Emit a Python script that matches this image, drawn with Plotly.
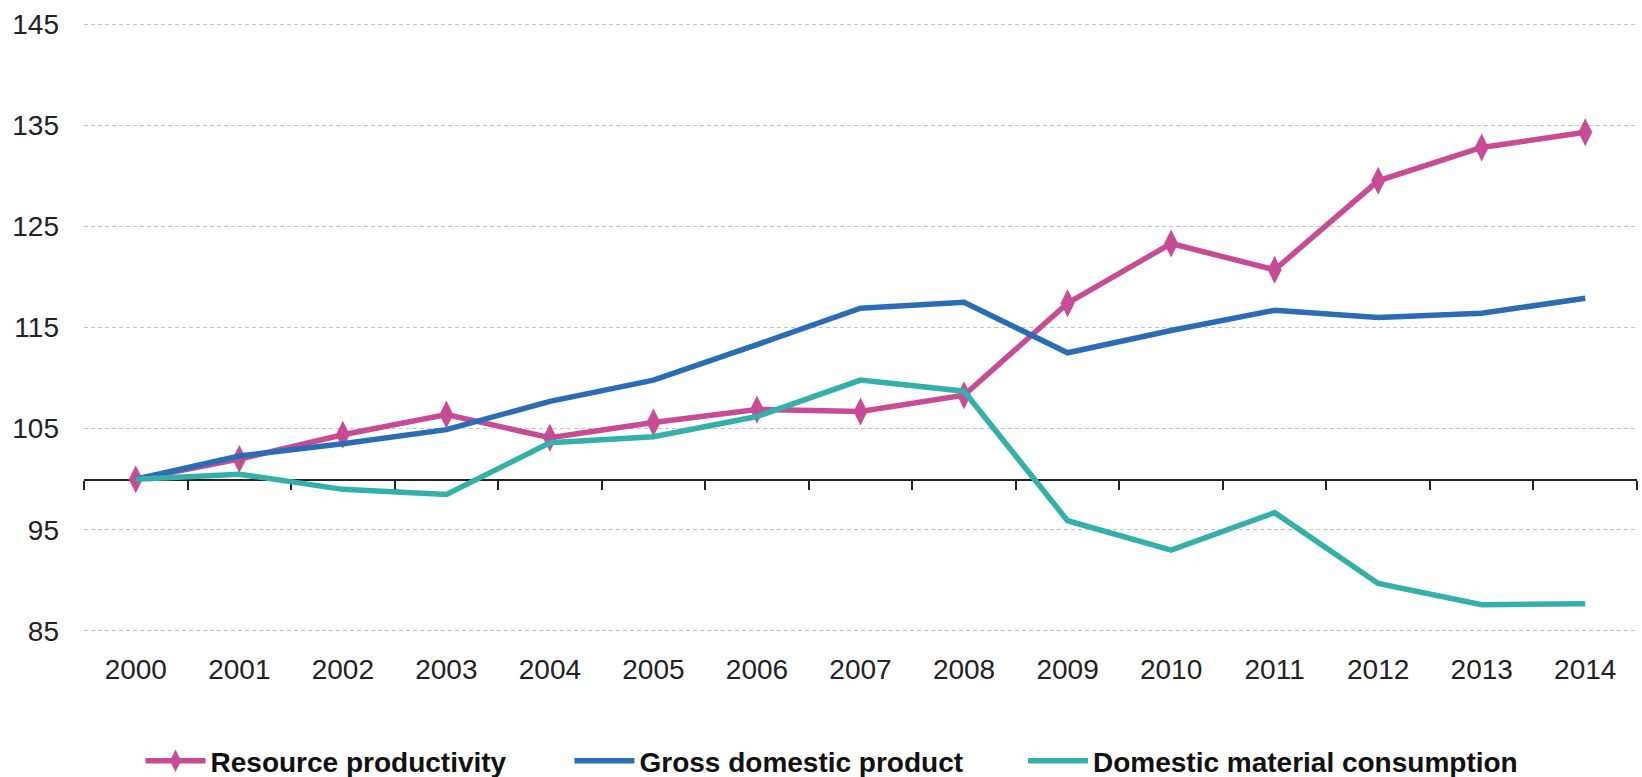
import plotly.graph_objects as go

years = [str(y) for y in range(2000, 2015)]
resource_productivity = [100, 102.0, 104.4, 106.4, 104.1, 105.6, 106.9, 106.7, 108.3, 117.4, 123.3, 120.7, 129.5, 132.8, 134.3]
gdp = [100, 102.3, 103.5, 104.9, 107.7, 109.8, 113.3, 116.9, 117.5, 112.5, 114.7, 116.7, 116.0, 116.4, 117.9]
dmc = [100, 100.5, 99.0, 98.5, 103.6, 104.2, 106.2, 109.8, 108.7, 95.9, 93.0, 96.7, 89.7, 87.6, 87.7]
y_ticks = [85, 95, 105, 115, 125, 135, 145]

PINK = "#C84B96"
BLUE = "#2A6DB5"
TEAL = "#33B0AA"
FONT = "Liberation Sans, Arial, sans-serif"

fig = go.Figure()
fig.add_trace(go.Scatter(x=years, y=resource_productivity, name="Resource productivity",
                         mode="lines+markers", line=dict(color=PINK, width=5.5),
                         marker=dict(symbol="diamond-tall", size=20, color=PINK),
                         legend="legend"))
fig.add_trace(go.Scatter(x=years, y=gdp, name="Gross domestic product",
                         mode="lines", line=dict(color=BLUE, width=5.5), legend="legend2"))
fig.add_trace(go.Scatter(x=years, y=dmc, name="Domestic material consumption",
                         mode="lines", line=dict(color=TEAL, width=5.5), legend="legend3"))
# carrier for the baseline axis at 100
fig.add_trace(go.Scatter(x=years, y=[None] * len(years), xaxis="x2", showlegend=False,
                         hoverinfo="skip", mode="lines"))

legend_common = dict(orientation="h", yanchor="middle", y=-0.212, xanchor="left",
                     font=dict(family=FONT, size=28, color="#111", weight="bold"),
                     itemwidth=60, bgcolor="rgba(0,0,0,0)", tracegroupgap=0)

fig.update_layout(
    width=1642, height=777,
    margin=dict(l=84, r=5, t=23, b=145, autoexpand=False),
    plot_bgcolor="white", paper_bgcolor="white",
    font=dict(family=FONT, size=28, color="#222"),
    xaxis=dict(type="category", categoryorder="array", categoryarray=years,
               range=[-0.5, 14.5], showgrid=False, showline=False, zeroline=False,
               ticks="", ticklabelstandoff=18, automargin=False,
               tickfont=dict(family=FONT, size=28, color="#222")),
    xaxis2=dict(type="category", categoryorder="array", categoryarray=years,
                range=[-0.5, 14.5], overlaying="x", anchor="free", position=0.25,
                side="bottom", showline=True, linecolor="#222", linewidth=2,
                ticks="outside", ticklen=9, tickwidth=2, tickcolor="#222",
                tickson="boundaries", showticklabels=False, showgrid=False,
                layer="below traces"),
    yaxis=dict(range=[84.9, 145.1], tickvals=y_ticks, showgrid=True, gridcolor="#C4C4C4",
               gridwidth=1, griddash="4px,3px", zeroline=False, showline=False,
               ticks="", ticklabelstandoff=24, automargin=False,
               tickfont=dict(family=FONT, size=28, color="#222")),
    legend=dict(legend_common, x=0.0364),
    legend2=dict(legend_common, x=0.3126),
    legend3=dict(legend_common, x=0.6046),
    showlegend=True,
)

fig.write_html("out.html", config={"displayModeBar": False},
               post_script="document.body.style.margin='0';document.body.style.overflow='hidden';")
